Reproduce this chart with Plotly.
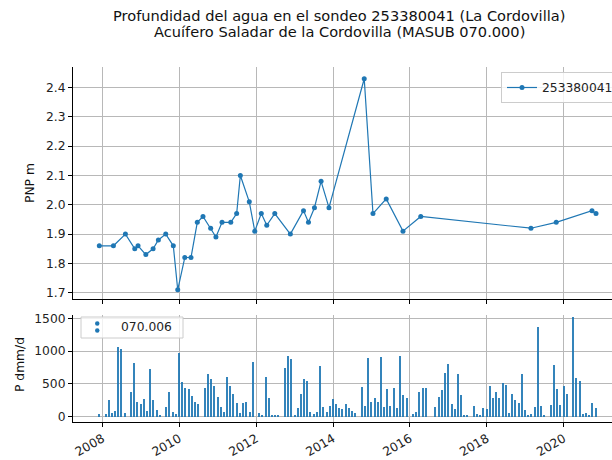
import plotly.graph_objects as go

# ---------------- data ----------------
depth_dates = ["2007-12-03", "2008-04-15", "2008-08-07", "2008-11-04", "2008-12-05",
               "2009-02-17", "2009-04-27", "2009-06-16", "2009-08-25", "2009-11-05",
               "2009-12-17", "2010-02-22", "2010-04-22", "2010-06-21", "2010-08-14",
               "2010-10-26", "2010-12-15", "2011-02-11", "2011-05-05", "2011-06-30",
               "2011-08-04", "2011-10-28", "2011-12-19", "2012-02-19", "2012-04-11",
               "2012-06-26", "2012-11-21", "2013-03-26", "2013-05-12", "2013-07-08",
               "2013-09-09", "2013-11-23", "2014-10-24", "2015-01-15", "2015-05-21",
               "2015-10-27", "2016-04-13", "2019-02-24", "2019-10-22", "2020-09-26",
               "2020-11-03"]
depth_values = [1.86, 1.86, 1.90, 1.85, 1.86, 1.83, 1.85, 1.88, 1.90, 1.86,
                1.71, 1.82, 1.82, 1.94, 1.96, 1.92, 1.89, 1.94, 1.94, 1.97,
                2.10, 2.01, 1.91, 1.97, 1.93, 1.97, 1.90, 1.98, 1.94, 1.99,
                2.08, 1.99, 2.43, 1.97, 2.02, 1.91, 1.96, 1.92, 1.94, 1.98,
                1.97]

precip_months = ["2007-12", "2008-02", "2008-03", "2008-04", "2008-05", "2008-06", "2008-07",
                 "2008-08", "2008-10", "2008-11", "2008-12", "2009-01", "2009-02", "2009-03",
                 "2009-04", "2009-05", "2009-06", "2009-07", "2009-09", "2009-10", "2009-11",
                 "2009-12", "2010-01", "2010-02", "2010-03", "2010-04", "2010-05", "2010-06",
                 "2010-07", "2010-09", "2010-10", "2010-11", "2010-12", "2011-01", "2011-02",
                 "2011-03", "2011-04", "2011-05", "2011-06", "2011-07", "2011-08", "2011-09",
                 "2011-10", "2011-11", "2011-12", "2012-02", "2012-03", "2012-04", "2012-05",
                 "2012-06", "2012-07", "2012-08", "2012-10", "2012-11", "2012-12", "2013-01",
                 "2013-02", "2013-03", "2013-04", "2013-05", "2013-06", "2013-07", "2013-08",
                 "2013-09", "2013-10", "2013-11", "2013-12", "2014-01", "2014-02", "2014-03",
                 "2014-04", "2014-05", "2014-06", "2014-07", "2014-08", "2014-10", "2014-11",
                 "2014-12", "2015-01", "2015-02", "2015-03", "2015-04", "2015-05", "2015-06",
                 "2015-07", "2015-08", "2015-09", "2015-10", "2015-11", "2015-12", "2016-02",
                 "2016-03", "2016-04", "2016-05", "2016-06", "2016-09", "2016-10", "2016-11",
                 "2016-12", "2017-01", "2017-02", "2017-03", "2017-04", "2017-05", "2017-06",
                 "2017-07", "2017-09", "2017-10", "2017-11", "2017-12", "2018-01", "2018-02",
                 "2018-03", "2018-04", "2018-05", "2018-06", "2018-07", "2018-08", "2018-09",
                 "2018-10", "2018-11", "2018-12", "2019-01", "2019-02", "2019-03", "2019-04",
                 "2019-05", "2019-06", "2019-07", "2019-09", "2019-10", "2019-11", "2019-12",
                 "2020-01", "2020-02", "2020-04", "2020-05", "2020-06", "2020-07", "2020-08",
                 "2020-09", "2020-10", "2020-11"]
precip_values = [37, 37, 250, 61, 87, 1058, 1032,
                 50, 381, 823, 229, 189, 265, 87,
                 722, 250, 97, 26, 152, 381, 67,
                 37, 976, 534, 432, 417, 321, 229,
                 198, 432, 651, 575, 473, 305, 152,
                 67, 605, 468, 351, 213, 52, 213,
                 229, 67, 838, 52, 26, 605, 280,
                 20, 20, 20, 738, 925, 875, 26,
                 128, 351, 570, 549, 76, 37, 76,
                 773, 148, 76, 163, 265, 198, 128,
                 112, 189, 128, 92, 52, 453, 168,
                 890, 219, 280, 229, 905, 148, 417,
                 168, 432, 128, 925, 331, 280, 37,
                 76, 381, 432, 432, 148, 300, 402,
                 671, 803, 189, 112, 651, 331, 20,
                 20, 168, 45, 26, 128, 117, 468,
                 280, 381, 280, 518, 483, 52, 351,
                 250, 213, 651, 97, 26, 37, 148,
                 1363, 168, 20, 178, 788, 417, 178,
                 468, 351, 1515, 585, 549, 37, 52,
                 20, 213, 128]

year_ticks = ["2008", "2010", "2012", "2014", "2016", "2018", "2020"]
depth_ticks = [1.7, 1.8, 1.9, 2.0, 2.1, 2.2, 2.3, 2.4]
precip_ticks = [0, 500, 1000, 1500]

series_name = "253380041"
precip_name = "070.006"
title_1 = "Profundidad del agua en el sondeo 253380041 (La Cordovilla)"
title_2 = "Acuífero Saladar de la Cordovilla (MASUB 070.000)"

# ---------------- figure ----------------
W, H = 612, 460
L, R, T, B = 73, 0, 67, 38
PW, PH = W - L - R, H - T - B


def px_x(px):
    return (px - L) / PW


def px_y(py):
    return (H - B - py) / PH


BLUE = "#1f77b4"
GRID = "#b8b8b8"
FONT = "DejaVu Sans"
FS = 12.3
TFS = 14.6
xr = ["2007-03-28", "2021-04-04"]

fig = go.Figure()
fig.add_trace(go.Scatter(x=depth_dates, y=depth_values, mode="lines+markers",
                         name=series_name, line=dict(color=BLUE, width=1.2),
                         marker=dict(color=BLUE, size=5), xaxis="x", yaxis="y"))
fig.add_trace(go.Bar(x=[m + "-01" for m in precip_months], y=precip_values,
                     name=precip_name, marker=dict(color=BLUE, line=dict(width=0)),
                     opacity=0.9, width=12 * 86400000, showlegend=False,
                     xaxis="x2", yaxis="y2"))

axis_common = dict(showline=True, linecolor="black", linewidth=1, ticks="outside",
                   ticklen=4, tickcolor="black", showgrid=True, gridcolor=GRID,
                   gridwidth=1.2, zeroline=False, automargin=False,
                   tickfont=dict(family=FONT, size=FS, color="#222222"))

year_vals = [y + "-01-01" for y in year_ticks]
fig.update_layout(
    width=W, height=H, margin=dict(l=L, r=R, t=T, b=B, autoexpand=False),
    paper_bgcolor="white", plot_bgcolor="white",
    font=dict(family=FONT, size=FS, color="#222222"),
    bargap=0,
    xaxis=dict(domain=[0, 1], anchor="y", type="date", range=xr, tickvals=year_vals,
               showticklabels=False, **axis_common),
    yaxis=dict(domain=[px_y(299), 1], anchor="x", range=[1.6785, 2.470],
               tickvals=depth_ticks, tickformat=".1f", **axis_common),
    xaxis2=dict(domain=[0, 1], anchor="y2", type="date", range=xr, tickvals=year_vals,
                ticktext=year_ticks, tickangle=-30, **axis_common),
    yaxis2=dict(domain=[0, px_y(315)], anchor="x2", range=[-81, 1550],
                tickvals=precip_ticks, **axis_common),
    legend=dict(x=px_x(501), y=px_y(72), xanchor="left", yanchor="top",
                bordercolor="#cccccc", borderwidth=1, bgcolor="rgba(255,255,255,0.8)",
                font=dict(family=FONT, size=FS, color="#222222")),
    showlegend=True,
)

ann = []
ann.append(dict(text=title_1, x=px_x(339), y=px_y(16), xref="paper", yref="paper",
                showarrow=False, xanchor="center", yanchor="middle",
                font=dict(family=FONT, size=TFS, color="#111111")))
ann.append(dict(text=title_2, x=px_x(339), y=px_y(32), xref="paper", yref="paper",
                showarrow=False, xanchor="center", yanchor="middle",
                font=dict(family=FONT, size=TFS, color="#111111")))
ann.append(dict(text="PNP m", x=px_x(30), y=px_y(183), xref="paper", yref="paper",
                showarrow=False, textangle=-90, xanchor="center", yanchor="middle",
                font=dict(family=FONT, size=FS, color="#111111")))
ann.append(dict(text="P dmm/d", x=px_x(20), y=px_y(365), xref="paper", yref="paper",
                showarrow=False, textangle=-90, xanchor="center", yanchor="middle",
                font=dict(family=FONT, size=FS, color="#111111")))
ann.append(dict(text=precip_name, x=px_x(119), y=px_y(327), xref="paper", yref="paper",
                showarrow=False, xanchor="left", yanchor="middle",
                font=dict(family=FONT, size=FS, color="#222222")))

shapes = []
shapes.append(dict(type="rect", xref="paper", yref="paper",
                   x0=px_x(81), x1=px_x(183), y0=px_y(338), y1=px_y(317),
                   line=dict(color="#cccccc", width=1), fillcolor="rgba(255,255,255,0.8)",
                   layer="above"))
for cy in (323.5, 330.5):
    shapes.append(dict(type="circle", xref="paper", yref="paper",
                       x0=px_x(95), x1=px_x(99.5), y0=px_y(cy + 2.2), y1=px_y(cy - 2.2),
                       line=dict(color=BLUE, width=0), fillcolor=BLUE, layer="above"))

fig.update_layout(annotations=ann, shapes=shapes)
fig.write_html("out.html", config={"displayModeBar": False},
               post_script="document.body.style.margin='0';")
